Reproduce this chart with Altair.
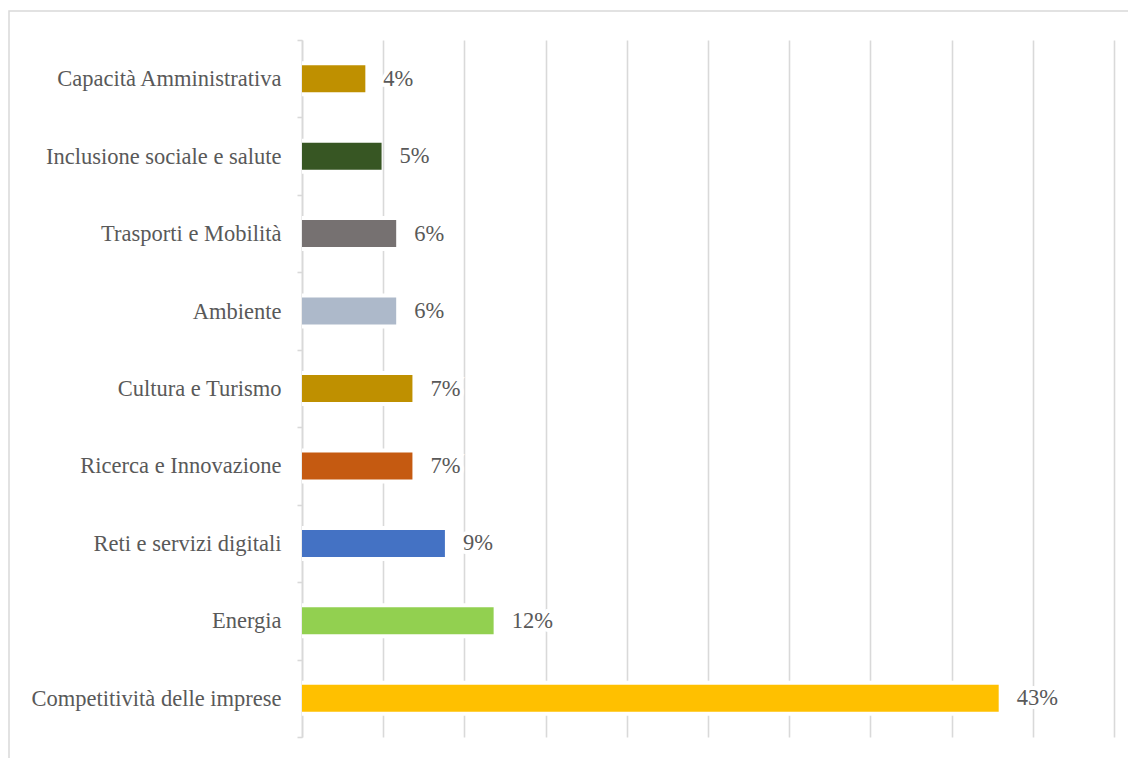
import altair as alt
import pandas as pd

categories = [
    "Capacità Amministrativa",
    "Inclusione sociale e salute",
    "Trasporti e Mobilità",
    "Ambiente",
    "Cultura e Turismo\u2005",
    "Ricerca e Innovazione",
    "Reti e servizi digitali",
    "Energia\u2005",
    "Competitività delle imprese",
]
values = [3.9, 4.9, 5.8, 5.8, 6.8, 6.8, 8.8, 11.8, 42.9]
labels = ["4%", "5%", "6%", "6%", "7%", "7%", "9%", "12%", "43%"]
colors = ["#BF9000", "#375623", "#767171", "#ADB9CA", "#BF9000",
          "#C55A11", "#4472C4", "#92D050", "#FFC000"]
grid_ticks = [0, 5, 10, 15, 20, 25, 30, 35, 40, 45, 50]

df = pd.DataFrame({"cat": categories, "val": values, "lab": labels, "col": colors})

FONT = "Liberation Serif"
GRID = "#d9d9d9"
FS = 22.5

x_scale = alt.Scale(domain=[0, 50], nice=False, zero=True)
y_scale = alt.Scale(domain=categories, paddingInner=0, paddingOuter=0)

base = alt.Chart(df)

x_enc = alt.X("val:Q", scale=x_scale,
              axis=alt.Axis(values=grid_ticks, labels=False, ticks=False, domain=False,
                            grid=True, gridColor=GRID, gridWidth=1.6, title=None))
y_enc = alt.Y("cat:N", scale=y_scale, sort=categories,
              axis=alt.Axis(title=None, tickBand="extent", tickSize=5, tickColor=GRID,
                            tickWidth=1.6, domainColor=GRID, domainWidth=1.6, grid=False,
                            labelFont=FONT, labelFontSize=FS, labelColor="#595959",
                            labelPadding=16, labelLimit=400))

white_bars = base.mark_bar(size=35, color="white", x2Offset=4).encode(x=x_enc, y=y_enc)
bars = base.mark_bar(size=27).encode(
    x=alt.X("val:Q", scale=x_scale),
    y=alt.Y("cat:N", scale=y_scale, sort=categories),
    color=alt.Color("col:N", scale=None, legend=None),
)
text_bg = base.mark_text(align="left", baseline="middle", dx=18, font=FONT, fontSize=FS,
                         stroke="white", strokeWidth=8, color="white").encode(
    x=alt.X("val:Q", scale=x_scale),
    y=alt.Y("cat:N", scale=y_scale, sort=categories),
    text="lab:N",
)
text = base.mark_text(align="left", baseline="middle", dx=18, font=FONT, fontSize=FS,
                      color="#595959").encode(
    x=alt.X("val:Q", scale=x_scale),
    y=alt.Y("cat:N", scale=y_scale, sort=categories),
    text="lab:N",
)

frame = alt.Chart(pd.DataFrame({"a": [0]})).mark_rect(
    fill=None, stroke=GRID, strokeWidth=1.5).encode(
    x=alt.value(-293), x2=alt.value(840), y=alt.value(-29), y2=alt.value(760))

chart = alt.layer(frame, white_bars, bars, text_bg, text).properties(
    width=812, height=697,
    autosize=alt.AutoSizeParams(type="none"),
    padding={"left": 302, "top": 40, "right": 14, "bottom": 21},
    background="white",
).configure_view(stroke=None)

chart.save("out.html", embed_options={"renderer": "svg", "actions": False})
